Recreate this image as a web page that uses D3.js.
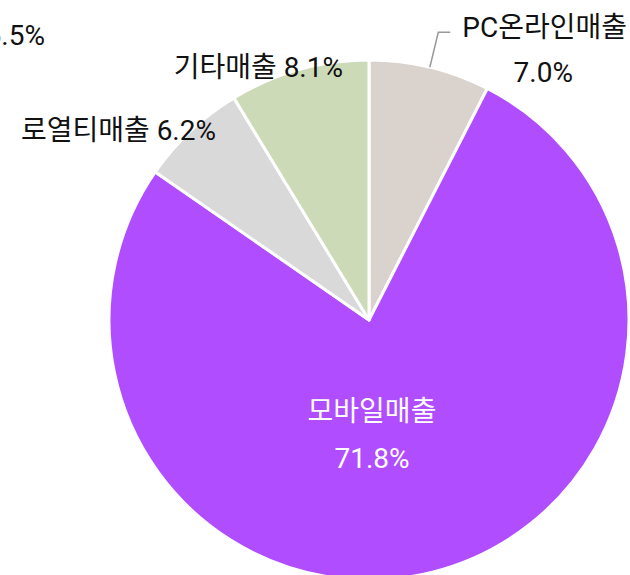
<!DOCTYPE html>
<html>
<head>
<meta charset="utf-8">
<script src="https://cdn.jsdelivr.net/npm/d3@7"></script>
<style>
  body { margin: 0; background: #fff; }
  svg { display: block; }
  text { font-family: Roboto, "Noto Sans CJK KR", sans-serif; font-size: 28px; }
</style>
</head>
<body>
<svg id="chart"></svg>
<script>
// slice data, clockwise from 12 o'clock
const categories = ["PC온라인매출", "모바일매출", "로열티매출", "기타매출"];
const shares = [7.0, 71.8, 6.2, 8.1];
const colors = ["#d9d2cd", "#b04eff", "#d9d9d9", "#cddab8"];

// a label whose slice lies outside the visible area
const strayLabel = "6.5%";

const width = 630, height = 575;
const cx = 369, cy = 320, radius = 260;

const svg = d3.select("#chart")
    .attr("width", width)
    .attr("height", height);

const g = svg.append("g")
    .attr("transform", `translate(${cx},${cy})`);

const data = categories.map((name, i) => ({name, value: shares[i], color: colors[i]}));

const pie = d3.pie()
    .sort(null)
    .value(d => d.value);

const arc = d3.arc()
    .innerRadius(0)
    .outerRadius(radius);

const arcs = pie(data);

g.selectAll(".slice")
    .data(arcs)
    .join("path")
    .attr("class", "slice")
    .attr("d", arc)
    .attr("fill", d => d.data.color)
    .attr("stroke", "#fff")
    .attr("stroke-width", 3)
    .attr("stroke-linejoin", "round");

// label layout, relative to the pie centre
const labelLayout = {
    "PC온라인매출": {mode: "leader"},
    "모바일매출": {mode: "inside", x: 3, y: 101},
    "로열티매출": {mode: "outside", x: -153, y: -180},
    "기타매출": {mode: "outside", x: -26, y: -243}
};

const fmt = d => d.toFixed(1) + "%";

const midAngle = d => (d.startAngle + d.endAngle) / 2;
const onRing = (a, r) => [r * Math.sin(a), -r * Math.cos(a)];

arcs.forEach(d => {
    const lay = labelLayout[d.data.name];
    const a = midAngle(d);
    if (lay.mode === "inside") {
        const t = g.append("text")
            .attr("text-anchor", "middle")
            .attr("fill", "#fff");
        t.append("tspan").attr("x", lay.x).attr("y", lay.y).text(d.data.name);
        t.append("tspan").attr("x", lay.x).attr("y", lay.y + 47).text(fmt(d.data.value));
    } else if (lay.mode === "leader") {
        const p0 = onRing(a, radius);
        const p1 = onRing(a, radius + 36);
        const p2 = [p1[0] + 12, p1[1]];
        g.append("polyline")
            .attr("points", [p0, p1, p2].map(p => p.join(",")).join(" "))
            .attr("fill", "none")
            .attr("stroke", "#999")
            .attr("stroke-width", 1.5);
        const t = g.append("text")
            .attr("fill", "#111");
        t.append("tspan").attr("x", p2[0] + 12).attr("y", p2[1] + 5).text(d.data.name);
        t.append("tspan").attr("x", p2[0] + 93).attr("y", p2[1] + 50)
            .attr("text-anchor", "middle").text(fmt(d.data.value));
    } else {
        g.append("text")
            .attr("fill", "#111")
            .attr("text-anchor", "end")
            .attr("x", lay.x)
            .attr("y", lay.y)
            .text(`${d.data.name} ${fmt(d.data.value)}`);
    }
});

svg.append("text")
    .attr("fill", "#111")
    .attr("text-anchor", "end")
    .attr("x", 45)
    .attr("y", 45)
    .text(strayLabel);
</script>
</body>
</html>
